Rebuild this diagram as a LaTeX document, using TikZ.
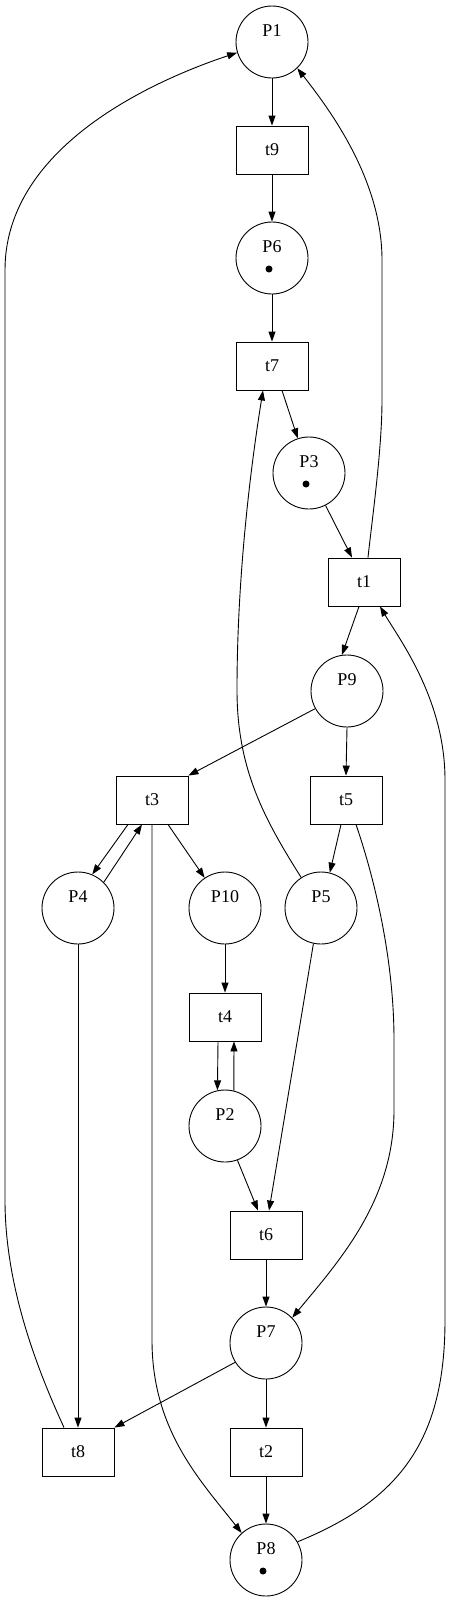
\documentclass[tikz,border=0pt]{standalone}
\usepackage{fontspec}
\setmainfont{Liberation Serif}
\usetikzlibrary{arrows.meta}
\begin{document}
\begin{tikzpicture}[x=1pt,y=-1pt,
  place/.style={circle,draw,line width=0.9pt,minimum size=72pt,inner sep=0pt},
  trans/.style={rectangle,draw,line width=0.9pt,minimum width=72pt,minimum height=48pt,inner sep=0pt,font=\fontsize{18}{20}\selectfont},
  lbl/.style={inner sep=0pt,font=\fontsize{18}{20}\selectfont},
  arc/.style={line width=0.9pt,-{Triangle[length=10pt,width=7pt]}},
  tok/.style={fill=black}]
\useasboundingbox (0,0) rectangle (451,1601);
% places
\node[place] (P1) at (272,42) {};
\node[place] (P6) at (272,258) {};
\node[place] (P3) at (309,473) {};
\node[place] (P9) at (347,691) {};
\node[place] (P4) at (78,908) {};
\node[place] (P10) at (225,908) {};
\node[place] (P5) at (321,908) {};
\node[place] (P2) at (225,1126) {};
\node[place] (P7) at (266,1343) {};
\node[place] (P8) at (266,1560) {};
% place labels
\foreach \p in {P1,P6,P3,P9,P4,P10,P5,P2,P7,P8}
  \node[lbl] (\p l) at ([yshift=11pt]\p.center) {\p};
% tokens
\fill[tok] ([xshift=-3pt,yshift=-11pt]P6.center) circle (3.5pt);
\fill[tok] ([xshift=-3pt,yshift=-11pt]P3.center) circle (3.5pt);
\fill[tok] ([xshift=-3pt,yshift=-11pt]P8.center) circle (3.5pt);
% transitions
\node[trans] (t9) at (272,150) {t9};
\node[trans] (t7) at (272,366) {t7};
\node[trans] (t1) at (364,582) {t1};
\node[trans] (t3) at (152,800) {t3};
\node[trans] (t5) at (346,800) {t5};
\node[trans] (t4) at (225,1017) {t4};
\node[trans] (t6) at (266,1235) {t6};
\node[trans] (t8) at (78,1452) {t8};
\node[trans] (t2) at (266,1452) {t2};
% straight arcs
\draw[arc] (P1.south) -- (t9.north);
\draw[arc] (t9.south) -- (P6.north);
\draw[arc] (P6.south) -- (t7.north);
\draw[arc] ([xshift=10pt]t7.south) -- (P3.108);
\draw[arc] (P3.-63) -- ([xshift=-12pt]t1.north);
\draw[arc] ([xshift=-5pt]t1.south) -- (P9.98);
\draw[arc] (P9.209) -- (t3.north east);
\draw[arc] (P9.south) -- (t5.north);
\draw[arc] ([xshift=-5pt]t5.south) -- (P5.76);
\draw[arc] ([xshift=-24pt]t3.south) -- (P4.67);
\draw[arc] (P4.45) -- ([xshift=-10pt]t3.south);
\draw[arc] ([xshift=16pt]t3.south) -- (P10.124);
\draw[arc] (P10.south) -- (t4.north);
\draw[arc] ([xshift=-7pt]t4.south) -- (P2.102);
\draw[arc] (P2.76) -- ([xshift=9pt]t4.south);
\draw[arc] (P2.-70) -- ([xshift=-8pt]t6.north);
\draw[arc] (P5.258) -- ([xshift=3pt]t6.north);
\draw[arc] (t6.south) -- (P7.north);
\draw[arc] (P4.south) -- (t8.north);
\draw[arc] (P7.212) -- (t8.north east);
\draw[arc] (P7.south) -- (t2.north);
\draw[arc] (t2.south) -- (P8.north);
% curved arcs
\draw[arc] ([xshift=4pt]t1.north) .. controls (372,520) and (382,450) .. (382,400)
  -- (382,260) .. controls (382,180) and (330,110) .. (P1.-46);
\draw[arc] ([xshift=-14pt]t8.north) .. controls (40,1375) and (5,1290) .. (5,1200)
  -- (5,270) .. controls (5,150) and (146,83) .. (P1.197);
\draw[arc] (P5.123) .. controls (265,820) and (237,770) .. (237,690)
  .. controls (237,560) and (255,440) .. ([xshift=-9pt]t7.south);
\draw[arc] ([xshift=10pt]t5.south) .. controls (375,880) and (394,960) .. (394,1040)
  -- (394,1110) .. controls (394,1200) and (340,1260) .. (P7.44);
\draw[arc] (P8.30) .. controls (400,1500) and (445,1440) .. (445,1320)
  -- (445,780) .. controls (445,700) and (400,640) .. ([xshift=16pt]t1.south);
\draw[arc] (t3.south) -- (152,1340) .. controls (152,1430) and (200,1480) .. (P8.132);
\end{tikzpicture}
\end{document}
